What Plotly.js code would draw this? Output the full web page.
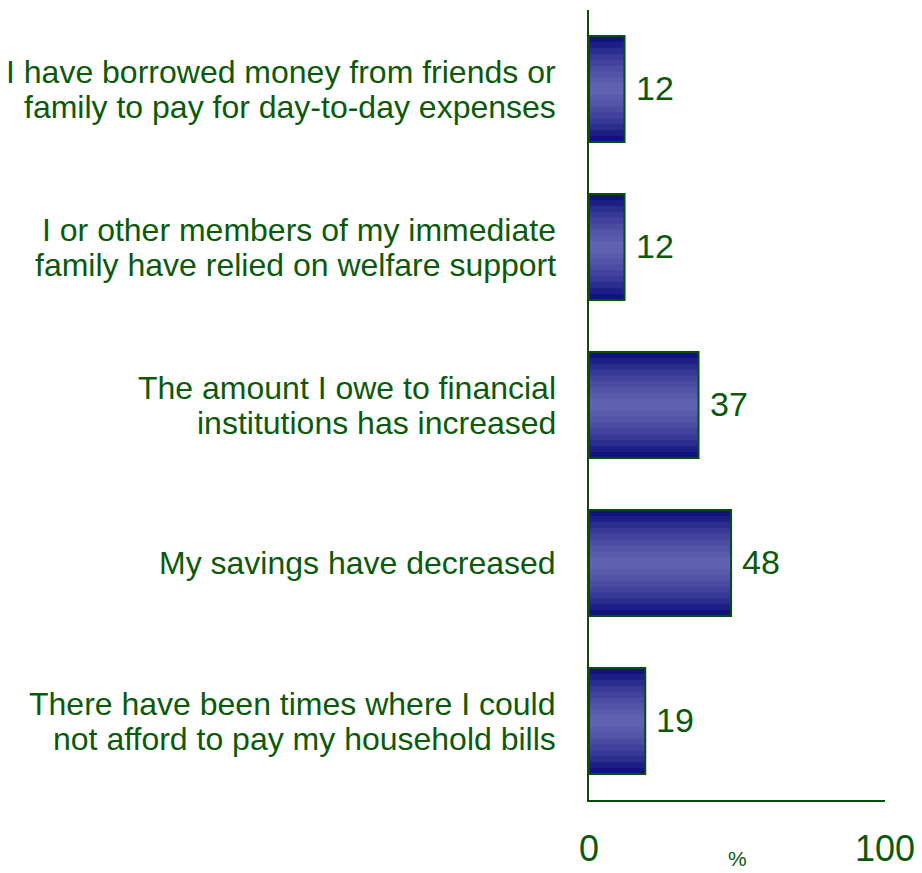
<!DOCTYPE html>
<html>
<head>
<meta charset="utf-8">
<script src="https://cdn.plot.ly/plotly-3.0.1.min.js"></script>
<style>html,body{margin:0;padding:0;background:#fff;}#chart{width:922px;height:873px;}</style>
</head>
<body>
<div id="chart"></div>
<script>
const categories = [
  "I have borrowed money from friends or<br>family to pay for day-to-day expenses",
  "I or other members of my immediate<br>family have relied on welfare support",
  "The amount I owe to financial<br>institutions has increased",
  "My savings have decreased",
  "There have been times where I could<br>not afford to pay my household bills"
];
const values = [12, 12, 37, 48, 19];
const xTickVals = [0, 100];
const xTickText = ["0", "100"];
const unitLabel = "%";

const green = "#0b5a0b";
const fontFam = "Liberation Sans, Arial, sans-serif";
const fullWidth = 0.67;
// stepped vertical gradient: dark edges -> light centre
const layerColors = ["#12127f", "#1e1e87", "#2c2c8f", "#383896", "#42429c", "#4b4ba2", "#5353a8", "#5a5aad", "#6161b2"];
const traces = [];
layerColors.forEach((c, i) => {
  const w = fullWidth * (1 - i / layerColors.length);
  traces.push({
    type: "bar", orientation: "h",
    x: values, y: categories,
    width: w,
    marker: {color: c, line: {width: 0}},
    hoverinfo: "skip", showlegend: false
  });
});
traces.push({
  type: "bar", orientation: "h",
  x: values, y: categories,
  width: fullWidth,
  marker: {color: "rgba(0,0,0,0)", line: {color: "#0a4d0a", width: 2}},
  hoverinfo: "skip", showlegend: false
});

const annotations = [];
values.forEach((v, i) => {
  annotations.push({
    x: v, y: categories[i], xref: "x", yref: "y",
    text: String(v), showarrow: false,
    xanchor: "left", yanchor: "middle", xshift: 9, yshift: 1,
    font: {family: fontFam, size: 34, color: green}
  });
});
// category labels, one annotation per line for tight line spacing
categories.forEach((c, i) => {
  const lines = c.split("<br>");
  const gap = 35;
  lines.forEach((ln, k) => {
    const off = (k - (lines.length - 1) / 2) * gap;
    annotations.push({
      x: 0, y: c, xref: "paper", yref: "y",
      text: ln, showarrow: false,
      xanchor: "right", yanchor: "middle", xshift: -31, yshift: -off,
      font: {family: fontFam, size: 32, color: green}
    });
  });
});
annotations.push({
  x: 0.5, y: 0, xref: "paper", yref: "paper",
  yanchor: "middle", yshift: -58, text: unitLabel, showarrow: false,
  font: {family: fontFam, size: 21, color: green}
});

const layout = {
  width: 922, height: 873,
  margin: {l: 589, r: 37, t: 10, b: 73},
  paper_bgcolor: "#fff", plot_bgcolor: "#fff",
  barmode: "overlay",
  font: {family: fontFam, color: green},
  xaxis: {
    range: [0, 100], tickvals: xTickVals, ticktext: xTickText,
    showgrid: false, zeroline: false,
    showline: true, linecolor: "#0a4d0a", linewidth: 2,
    ticks: "", ticklabelstandoff: 16,
    tickfont: {size: 36, color: green}
  },
  yaxis: {
    autorange: "reversed",
    showgrid: false, zeroline: false,
    showline: true, linecolor: "#0a4d0a", linewidth: 2,
    ticks: "", showticklabels: false
  },
  annotations: annotations
};
Plotly.newPlot("chart", traces, layout, {displayModeBar: false, staticPlot: true});
</script>
</body>
</html>
